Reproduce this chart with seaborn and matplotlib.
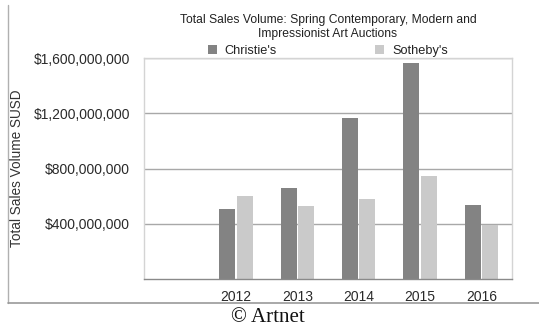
import matplotlib
matplotlib.use("Agg")
import matplotlib.pyplot as plt
import matplotlib.ticker as mticker
from matplotlib.lines import Line2D
import seaborn as sns
import pandas as pd

years = ["2012", "2013", "2014", "2015", "2016"]
christies = [507e6, 657e6, 1166e6, 1564e6, 538e6]
sothebys = [599e6, 526e6, 582e6, 748e6, 389e6]
series_names = ["Christie's", "Sotheby's"]
yticks = [400e6, 800e6, 1200e6, 1600e6]
title = "Total Sales Volume: Spring Contemporary, Modern and\nImpressionist Art Auctions"
ylabel = "Total Sales Volume SUSD"
credit = "© Artnet"

df = pd.DataFrame({
    "year": years * 2,
    "value": christies + sothebys,
    "house": [series_names[0]] * len(years) + [series_names[1]] * len(years),
})

sns.set_theme(style="white")
plt.rcParams["font.family"] = ["Liberation Sans", "DejaVu Sans"]

fig = plt.figure(figsize=(5.39, 3.30), dpi=100)
ax = fig.add_axes([144 / 539, 1 - 279 / 330, (512 - 144) / 539, (279 - 58) / 330])

palette = {series_names[0]: "#838383", series_names[1]: "#cacaca"}
sns.barplot(data=df, x="year", y="value", hue="house", order=years,
            palette=palette, width=0.56, gap=0.07, ax=ax, legend=True,
            saturation=1, edgecolor="none", linewidth=0)

ax.set_xlim(-1.5, 4.5)
ax.set_ylim(0, 1.6e9)
ax.set_yticks(yticks)
ax.yaxis.set_major_formatter(mticker.FuncFormatter(lambda v, p: "${:,.0f}".format(v)))
ax.yaxis.grid(True, color="#a8a8a8", linewidth=1.0)
ax.set_axisbelow(True)
ax.set_xlabel("")
ax.set_ylabel(ylabel, fontsize=9.8, color="#333333")
ax.yaxis.set_label_coords(-(144 - 24) / 368, 0.5)

ax.tick_params(axis="y", length=0, pad=10, labelsize=10, labelcolor="#2a2a2a")
ax.tick_params(axis="x", which="major", length=0, pad=8, labelsize=10, labelcolor="#2a2a2a")
ax.set_xticks([-0.5, 0.5, 1.5, 2.5, 3.5], minor=True)
ax.tick_params(axis="x", which="minor", length=3, direction="inout", color="#888888", width=0.8)

for side in ["top", "right", "left"]:
    ax.spines[side].set_color("#d4d4d4")
    ax.spines[side].set_linewidth(1.0)
ax.spines["bottom"].set_color("#8a8a8a")
ax.spines["bottom"].set_linewidth(1.0)

ax.text(0.5, (279 - 27) / 221, title, transform=ax.transAxes, ha="center",
        va="center", fontsize=8.7, color="#222222", linespacing=1.25)

handles, labels = ax.get_legend_handles_labels()
ax.legend(handles, labels, loc="center", bbox_to_anchor=(0.5, (279 - 51) / 221),
          ncol=2, frameon=False, fontsize=9.2, handlelength=0.7, handleheight=0.7,
          handletextpad=0.6, columnspacing=7.7, borderaxespad=0, borderpad=0)
for t in ax.get_legend().get_texts():
    t.set_color("#222222")

fig.add_artist(Line2D([8 / 539, 8 / 539], [1 - 303 / 330, 1 - 5 / 330],
                      transform=fig.transFigure, color="#b0b0b0", linewidth=1.0))
fig.add_artist(Line2D([8 / 539, 1.0], [1 - 303 / 330, 1 - 303 / 330],
                      transform=fig.transFigure, color="#999999", linewidth=1.2))

fig.text(268 / 539, 1 - 318 / 330, credit, ha="center", va="center",
         fontsize=15, family=["Liberation Serif", "DejaVu Serif"], color="#111111")

fig.savefig("out.png", dpi=100, facecolor="white")
